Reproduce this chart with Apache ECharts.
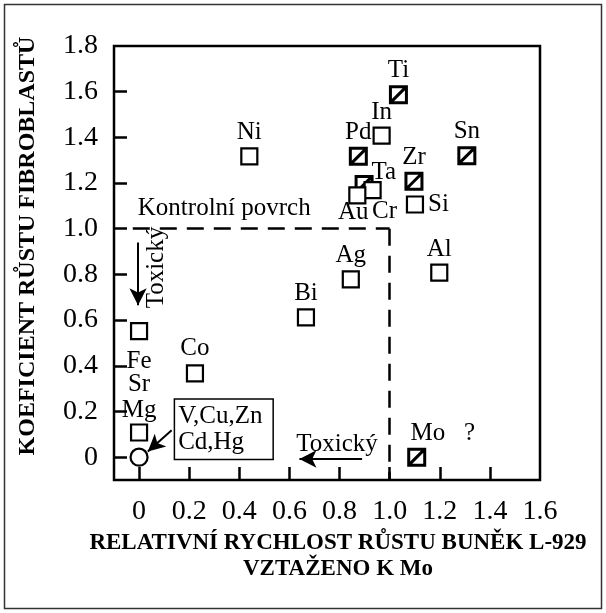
<!DOCTYPE html>
<html>
<head>
    <meta charset="UTF-8">
    <script src="https://cdn.jsdelivr.net/npm/echarts@6.0.0/dist/echarts.min.js"></script>
    <style>
        html, body { margin: 0; padding: 0; background: #fff; }
        #main { width: 606px; height: 613px; }
    </style>
</head>
<body>
<div id="main"></div>
<script type="text/javascript">
    // open squares
    var openNames = ['In', 'Ni', 'Cr', 'Au', 'Si', 'Al', 'Ag', 'Bi', 'Co', 'Fe', 'Mg'];
    var openX = [0.968, 0.44, 0.932, 0.871, 1.101, 1.198, 0.845, 0.666, 0.223, 0.0, 0.0];
    var openY = [1.408, 1.317, 1.169, 1.146, 1.106, 0.808, 0.778, 0.612, 0.367, 0.552, 0.108];
    // hatched squares
    var hatchNames = ['Ti', 'Pd', 'Sn', 'Zr', 'Ta', 'Mo'];
    var hatchX = [1.035, 0.875, 1.308, 1.097, 0.898, 1.108];
    var hatchY = [1.587, 1.317, 1.32, 1.208, 1.194, 0.0];
    // circle (V, Cu, Zn, Cd, Hg)
    var circleX = [0.0];
    var circleY = [0.0];

    var xTicks = [0, 0.2, 0.4, 0.6, 0.8, 1.0, 1.2, 1.4];
    var xLabels = [0, 0.2, 0.4, 0.6, 0.8, 1.0, 1.2, 1.4, 1.6];
    var yTicks = [0, 0.2, 0.4, 0.6, 0.8, 1.0, 1.2, 1.4, 1.6];
    var yLabels = [0, 0.2, 0.4, 0.6, 0.8, 1.0, 1.2, 1.4, 1.6, 1.8];

    var serif = 'Liberation Serif';
    var fs = 25;

    function fmt(v) {
        return v === 0 ? '0' : v.toFixed(1);
    }

    // label placement for each point
    var labelOpts = {
        'In': {position: 'top', distance: 2},
        'Ni': {position: 'top', distance: 2},
        'Au': {position: 'bottom', distance: -5, offset: [-4, 0]},
        'Cr': {position: 'bottom', distance: 0, offset: [12, 0]},
        'Si': {position: 'right', distance: 4},
        'Al': {position: 'top', distance: 2},
        'Ag': {position: 'top', distance: 2},
        'Bi': {position: 'top', distance: 2},
        'Co': {position: 'top', distance: 3},
        'Fe': {position: 'bottom', distance: 9},
        'Mg': {position: 'top', distance: 0, formatter: 'Sr\nMg', lineHeight: 26},
        'Ti': {position: 'top', distance: 2},
        'Pd': {position: 'top', distance: 2},
        'Sn': {position: 'top', distance: 2},
        'Zr': {position: 'top', distance: 2},
        'Ta': {position: 'right', distance: -2, offset: [0, -12]},
        'Mo': {position: 'top', distance: 2, formatter: 'Mo   ?', offset: [26, 0]}
    };

    function buildData(names, xs, ys) {
        var out = [];
        for (var i = 0; i < names.length; i++) {
            var lo = labelOpts[names[i]] || {position: 'top'};
            out.push({
                name: names[i],
                value: [xs[i], ys[i]],
                label: Object.assign({show: true, formatter: names[i]}, lo)
            });
        }
        return out;
    }

    // annotations: text, x, y (data units)
    var noteText = ['Kontrolní povrch', 'Toxický', 'Toxický', 'V,Cu,Zn\nCd,Hg'];
    var noteX = [0.34, 0.068, 0.79, 0.144];
    var noteY = [1.088, 0.83, 0.057, 0.122];

    var labelBase = {color: '#000', fontFamily: serif, fontSize: fs, textBorderWidth: 0};

    var chart = echarts.init(document.getElementById('main'));
    var option = {
        animation: false,
        backgroundColor: '#fff',
        grid: {
            left: 114, right: 66, top: 46, bottom: 133,
            show: true, borderColor: '#000', borderWidth: 2.5
        },
        xAxis: {
            type: 'value', min: -0.1, max: 1.6,
            axisLine: {show: false, onZero: false},
            splitLine: {show: false},
            axisTick: {
                show: true, inside: true, length: 13, customValues: xTicks,
                lineStyle: {color: '#000', width: 2.5}
            },
            axisLabel: {
                customValues: xLabels, formatter: fmt, margin: 18,
                color: '#000', fontFamily: serif, fontSize: 28
            }
        },
        yAxis: {
            type: 'value', min: -0.1, max: 1.8,
            axisLine: {show: false, onZero: false},
            splitLine: {show: false},
            axisTick: {
                show: true, inside: true, length: 13, customValues: yTicks,
                lineStyle: {color: '#000', width: 2.5}
            },
            axisLabel: {
                customValues: yLabels, formatter: fmt, margin: 16,
                color: '#000', fontFamily: serif, fontSize: 28
            }
        },
        graphic: [
            {
                type: 'rect', shape: {x: 4.5, y: 4.5, width: 597, height: 604},
                style: {fill: 'none', stroke: '#333', lineWidth: 1.5}, silent: true
            },
            {
                type: 'text', x: 28, y: 246, rotation: Math.PI / 2,
                style: {
                    text: 'KOEFICIENT RŮSTU FIBROBLASTŮ', fill: '#000',
                    font: 'bold 24px "Liberation Serif"', align: 'center', verticalAlign: 'middle'
                }
            },
            {
                type: 'text', x: 338, y: 556,
                style: {
                    text: 'RELATIVNÍ RYCHLOST RŮSTU BUNĚK L-929\nVZTAŽENO K Mo', fill: '#000',
                    font: 'bold 23px "Liberation Serif"', align: 'center', verticalAlign: 'middle',
                    lineHeight: 26
                }
            }
        ],
        series: [
            {
                name: 'lines', type: 'line', data: [], silent: true,
                markLine: {
                    silent: true, symbol: ['none', 'none'], label: {show: false},
                    lineStyle: {color: '#000', width: 2.5, type: [17, 10]},
                    data: [
                        [{coord: [-0.025, 1.0]}, {coord: [1.0, 1.0]}],
                        [{coord: [1.0, 1.0]}, {coord: [1.0, -0.1]}]
                    ]
                }
            },
            {
                name: 'arrows', type: 'line', data: [], silent: true,
                markLine: {
                    silent: true, symbol: ['none', 'arrow'], symbolSize: [13, 17],
                    label: {show: false},
                    lineStyle: {color: '#000', width: 2, type: 'solid'},
                    itemStyle: {color: '#000'},
                    data: [
                        [{coord: [-0.004, 0.94]}, {coord: [-0.004, 0.665]}],
                        [{coord: [0.89, -0.008]}, {coord: [0.64, -0.008]}],
                        [{coord: [0.13, 0.118]}, {coord: [0.035, 0.025]}]
                    ]
                }
            },
            {
                name: 'hatched', type: 'scatter',
                symbol: 'path://M0,0L16,0L16,16L0,16Z M0,16L16,0', symbolSize: 16,
                itemStyle: {color: '#fff', borderColor: '#000', borderWidth: 3, opacity: 1},
                label: labelBase,
                data: buildData(hatchNames, hatchX, hatchY),
                z: 2
            },
            {
                name: 'open', type: 'scatter', symbol: 'rect', symbolSize: 16,
                itemStyle: {color: '#fff', borderColor: '#000', borderWidth: 2.2, opacity: 1},
                label: labelBase,
                data: buildData(openNames, openX, openY),
                z: 3
            },
            {
                name: 'circle', type: 'scatter', symbol: 'circle', symbolSize: 17,
                itemStyle: {color: '#fff', borderColor: '#000', borderWidth: 2.2, opacity: 1},
                data: circleX.map(function (x, i) { return [x, circleY[i]]; }),
                z: 3
            },
            {
                name: 'notes', type: 'scatter', symbolSize: 0, silent: true,
                itemStyle: {color: '#000', opacity: 1},
                data: noteText.map(function (t, i) {
                    var d = {value: [noteX[i], noteY[i]], label: {show: true, formatter: t, position: 'inside'}};
                    if (i === 1) d.label.rotate = 90;
                    if (i === 3) {
                        d.label.align = 'left';
                        d.label.lineHeight = 26;
                        d.label.padding = [4, 10, 3, 3];
                        d.label.borderColor = '#000';
                        d.label.borderWidth = 1.5;
                        d.label.backgroundColor = '#fff';
                    }
                    return d;
                }),
                label: labelBase,
                z: 4
            }
        ]
    };
    chart.setOption(option);
</script>
</body>
</html>
